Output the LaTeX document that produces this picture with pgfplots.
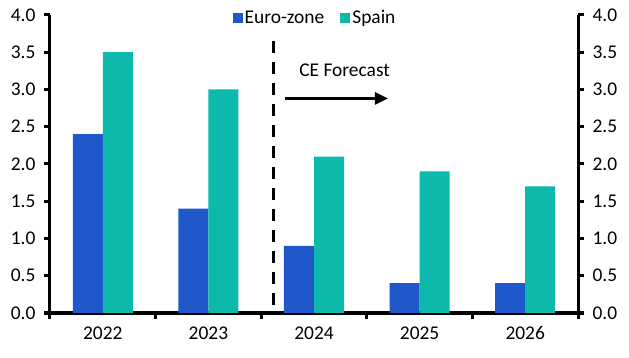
\documentclass[border=0pt]{standalone}
\usepackage{pgfplots}
\pgfplotsset{compat=1.18}
\usepackage{fontspec}
\setmainfont{Carlito}
\usetikzlibrary{arrows.meta}
\definecolor{ezblue}{RGB}{31,88,202}
\definecolor{spteal}{RGB}{13,185,170}
\begin{document}
\begin{tikzpicture}
\pgfplotsset{
  common/.style={
    scale only axis, width=528bp, height=298bp,
    at={(0,0)}, anchor=south west,
    xmin=-0.5, xmax=4.5, ymin=0, ymax=4,
    ytick={0,0.5,...,4},
    /pgf/number format/.cd, fixed, fixed zerofill, precision=1, assume math mode=true, /pgfplots/.cd,
    tick label style={font=\fontsize{19.5}{21}\selectfont},
    axis line style={line width=3bp},
    major tick length=6bp, minor tick length=6bp,
    tick align=outside,
    every tick/.style={black, line width=3bp},
  }
}
\begin{axis}[common,
  axis x line*=bottom, axis y line*=left,
  ybar=0pt, bar width=30bp,
  xtick={0,1,2,3,4}, xticklabels={2022,2023,2024,2025,2026},
  major x tick style={draw=none},
  minor xtick={-0.5,0.5,1.5,2.5,3.5,4.5},
  yticklabel style={xshift=-5bp},
  xticklabel style={yshift=-4bp},
  legend style={draw=none, fill=none, at={(0.502,0.99)}, anchor=center,
    legend columns=2, font=\fontsize{19.5}{21}\selectfont,
    /tikz/every even column/.style={column sep=14bp}},
  legend image code/.code={\fill[#1] (0bp,-5bp) rectangle (10bp,5bp);},
]
\addplot[fill=ezblue, draw=none] coordinates {(0,2.4) (1,1.4) (2,0.9) (3,0.4) (4,0.4)};
\addplot[fill=spteal, draw=none] coordinates {(0,3.5) (1,3.0) (2,2.1) (3,1.9) (4,1.7)};
\legend{Euro-zone, Spain}
\end{axis}
\begin{axis}[common,
  axis x line=none, axis y line*=right,
  yticklabel style={xshift=5bp},
]
\addplot[black, line width=3bp, dash pattern=on 12bp off 9bp] coordinates {(1.62,3.65) (1.62,0)};
\addplot[black, line width=2.4bp, -{Triangle[length=13bp,width=12bp]}] coordinates {(1.725,2.88) (2.70,2.88)};
\node[font=\fontsize{19.5}{21}\selectfont] at (axis cs:2.29,3.26) {CE Forecast};
\end{axis}
\path[use as bounding box] (-50bp,-45bp) rectangle (579bp,313bp);
\end{tikzpicture}
\end{document}
